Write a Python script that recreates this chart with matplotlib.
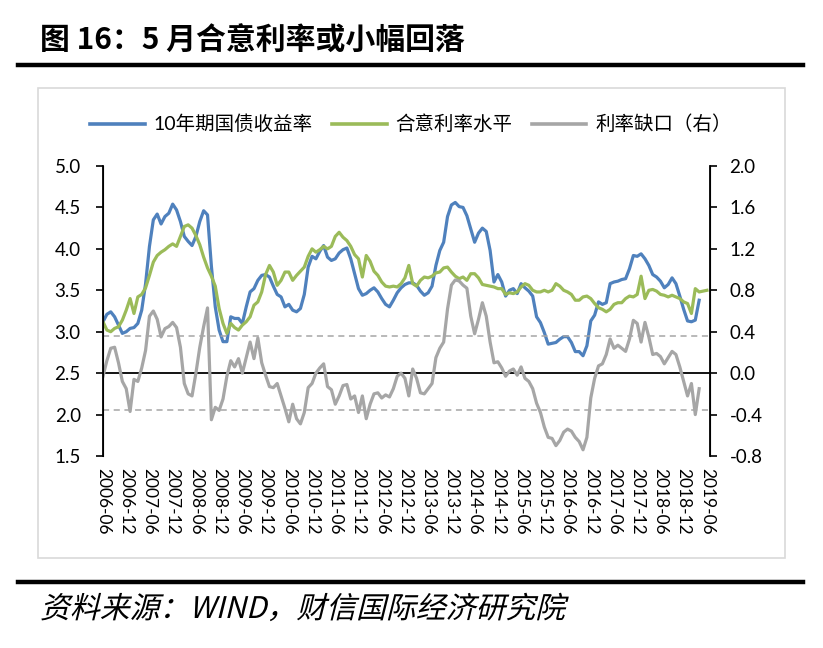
import matplotlib
matplotlib.use("Agg")
import matplotlib.pyplot as plt
from matplotlib.lines import Line2D
from matplotlib.patches import Rectangle, PathPatch
from matplotlib.textpath import TextPath
from matplotlib.font_manager import FontProperties
from matplotlib.transforms import Affine2D
import numpy as np

plt.rcParams['font.family'] = ['Lato', 'Noto Sans CJK SC', 'DejaVu Sans']

# 月度数据，2006-06 起
start_year, start_month = 2006, 6

# 10年期国债收益率（左轴），2006-06 ~ 2019-04
yield_10y = [
    3.12, 3.21, 3.24, 3.18, 3.08, 2.98, 3.00, 3.04, 3.05, 3.10,
    3.26, 3.58, 4.03, 4.35, 4.42, 4.30, 4.39, 4.43, 4.54, 4.47,
    4.33, 4.15, 4.09, 4.04, 4.15, 4.33, 4.46, 4.41, 3.79, 3.30,
    3.02, 2.88, 2.88, 3.18, 3.16, 3.16, 3.10, 3.30, 3.48, 3.52,
    3.62, 3.68, 3.69, 3.66, 3.55, 3.45, 3.42, 3.30, 3.33, 3.26,
    3.24, 3.28, 3.45, 3.78, 3.91, 3.88, 3.97, 4.04, 3.90, 3.86,
    3.88, 3.95, 3.99, 4.01, 3.88, 3.70, 3.52, 3.44, 3.46, 3.50,
    3.53, 3.48, 3.40, 3.33, 3.30, 3.38, 3.47, 3.53, 3.57, 3.59,
    3.59, 3.56, 3.49, 3.44, 3.47, 3.55, 3.80, 3.98, 4.08, 4.39,
    4.53, 4.56, 4.51, 4.50, 4.40, 4.24, 4.08, 4.19, 4.25, 4.21,
    3.98, 3.60, 3.69, 3.60, 3.43, 3.50, 3.52, 3.46, 3.58, 3.53,
    3.49, 3.43, 3.18, 3.11, 2.99, 2.85, 2.86, 2.87, 2.91, 2.94,
    2.94, 2.87, 2.76, 2.76, 2.71, 2.83, 3.13, 3.20, 3.36, 3.33,
    3.35, 3.58, 3.60, 3.61, 3.63, 3.64, 3.76, 3.92, 3.91, 3.94,
    3.88, 3.80, 3.69, 3.66, 3.61, 3.53, 3.57, 3.65, 3.58, 3.43,
    3.27, 3.13, 3.12, 3.14, 3.38,
]

# 合意利率水平（左轴），2006-06 ~ 2019-06
target_rate = [
    3.12, 3.02, 3.00, 3.04, 3.06, 3.14, 3.26, 3.40, 3.22, 3.42,
    3.45, 3.53, 3.68, 3.84, 3.92, 3.96, 3.99, 4.03, 4.06, 4.03,
    4.15, 4.27, 4.29, 4.25, 4.16, 4.05, 3.90, 3.77, 3.67, 3.55,
    3.28, 3.10, 2.98, 3.10, 3.05, 3.02, 3.08, 3.12, 3.18, 3.32,
    3.36, 3.48, 3.69, 3.80, 3.72, 3.56, 3.62, 3.72, 3.72, 3.62,
    3.68, 3.73, 3.78, 3.91, 4.00, 3.96, 3.99, 4.03, 4.00, 4.03,
    4.15, 4.20, 4.14, 4.10, 4.03, 3.93, 3.88, 3.66, 3.92, 3.85,
    3.73, 3.68, 3.60, 3.55, 3.54, 3.55, 3.54, 3.58, 3.65, 3.80,
    3.58, 3.55, 3.62, 3.66, 3.65, 3.67, 3.71, 3.72, 3.77, 3.78,
    3.72, 3.67, 3.64, 3.66, 3.62, 3.70, 3.70, 3.65, 3.57, 3.56,
    3.55, 3.54, 3.52, 3.52, 3.45, 3.47, 3.46, 3.48, 3.54, 3.58,
    3.56, 3.50, 3.48, 3.48, 3.50, 3.48, 3.50, 3.58, 3.55, 3.50,
    3.48, 3.45, 3.38, 3.38, 3.42, 3.43, 3.40, 3.34, 3.29, 3.27,
    3.24, 3.27, 3.33, 3.35, 3.35, 3.40, 3.43, 3.42, 3.45, 3.67,
    3.40, 3.50, 3.51, 3.49, 3.45, 3.44, 3.42, 3.44, 3.42, 3.40,
    3.36, 3.34, 3.22, 3.52, 3.48, 3.49, 3.50,
]

# 利率缺口（右轴），2006-06 ~ 2019-04
rate_gap = [
    -0.03, 0.12, 0.24, 0.25, 0.10, -0.08, -0.15, -0.37, -0.06, -0.08,
    0.05, 0.22, 0.55, 0.60, 0.52, 0.35, 0.43, 0.45, 0.49, 0.44,
    0.25, -0.10, -0.20, -0.22, 0.00, 0.25, 0.45, 0.63, -0.45, -0.33,
    -0.36, -0.25, -0.03, 0.12, 0.06, 0.14, 0.00, 0.15, 0.30, 0.14,
    0.34, 0.10, -0.02, -0.13, -0.14, -0.10, -0.22, -0.34, -0.47, -0.30,
    -0.44, -0.49, -0.38, -0.14, -0.10, 0.00, 0.05, 0.09, -0.13, -0.16,
    -0.30, -0.22, -0.12, -0.11, -0.25, -0.22, -0.38, -0.22, -0.44, -0.30,
    -0.20, -0.19, -0.24, -0.21, -0.23, -0.15, -0.03, 0.00, -0.05, -0.22,
    0.04, -0.05, -0.19, -0.20, -0.15, -0.10, 0.15, 0.24, 0.30, 0.62,
    0.85, 0.90, 0.89, 0.85, 0.82, 0.55, 0.38, 0.52, 0.68, 0.55,
    0.30, 0.10, 0.11, 0.05, -0.03, 0.02, 0.04, -0.02, 0.06, -0.05,
    -0.08, -0.15, -0.29, -0.38, -0.52, -0.62, -0.63, -0.70, -0.65, -0.57,
    -0.54, -0.56, -0.62, -0.66, -0.74, -0.62, -0.24, -0.05, 0.07, 0.09,
    0.18, 0.33, 0.24, 0.27, 0.24, 0.21, 0.33, 0.51, 0.48, 0.30,
    0.49, 0.35, 0.18, 0.19, 0.16, 0.09, 0.15, 0.21, 0.18, 0.06,
    -0.08, -0.22, -0.10, -0.40, -0.15,
]

gap_band = 0.36

labels = ['10年期国债收益率', '合意利率水平', '利率缺口（右）']
c_blue, c_green, c_gray = '#4F81BD', '#9BBB59', '#A6A6A6'

# 横轴刻度：每半年
tick_pos = list(range(0, 157, 6))
tick_lab = []
for p in tick_pos:
    y = start_year + (start_month - 1 + p) // 12
    m = (start_month - 1 + p) % 12 + 1
    tick_lab.append(f'{y}-{m:02d}')

W, H = 823, 648
fig = plt.figure(figsize=(W / 100, H / 100), dpi=100)

ax = fig.add_axes([103 / W, 1 - 456 / H, (710 - 103) / W, (456 - 166) / H])
ax2 = ax.twinx()

ax.plot(np.arange(len(yield_10y)), yield_10y, color=c_blue, lw=2.3)
ax.plot(np.arange(len(target_rate)), target_rate, color=c_green, lw=2.3)
ax2.plot(np.arange(len(rate_gap)), rate_gap, color=c_gray, lw=2.3)
ax2.axhline(0, color='black', lw=1.3, zorder=0)
ax2.axhline(gap_band, color=c_gray, lw=1.1, ls=(0, (4, 3)), zorder=0)
ax2.axhline(-gap_band, color=c_gray, lw=1.1, ls=(0, (4, 3)), zorder=0)

ax.set_xlim(0, 156.8)
ax.set_ylim(1.5, 5.0)
ax2.set_ylim(-0.8, 2.0)
ax.set_yticks(np.arange(1.5, 5.01, 0.5))
ax.set_yticklabels([f'{v:.1f}' for v in np.arange(1.5, 5.01, 0.5)])
ax2.set_yticks(np.arange(-0.8, 2.01, 0.4))
ax2.set_yticklabels([f'{v:.1f}' for v in np.arange(-0.8, 2.01, 0.4)])
ax.set_xticks(tick_pos)
ax.set_xticklabels(tick_lab, rotation=270, fontsize=12.5)

for a in (ax, ax2):
    a.spines['top'].set_visible(False)
    a.spines['bottom'].set_visible(False)
    a.tick_params(axis='y', labelsize=13.5, length=5, width=1.2, direction='out')
ax.tick_params(axis='y', pad=11)
ax2.tick_params(axis='y', pad=9)
ax.spines['left'].set_linewidth(1.3)
ax2.spines['right'].set_linewidth(1.3)
ax.tick_params(axis='x', length=0, pad=9)

# 图例
handles = [Line2D([], [], color=c, lw=2.6) for c in (c_blue, c_green, c_gray)]
fig.legend(handles, labels, loc='center', bbox_to_anchor=(411 / W, 1 - 124 / H),
           ncol=3, frameon=False, fontsize=14, handlelength=2.8,
           handletextpad=0.45, columnspacing=1.0)

# 外框与分隔线
fig.add_artist(Rectangle((38 / W, 1 - 558 / H), (785 - 38) / W, (558 - 88) / H,
                         transform=fig.transFigure, fill=False, ec='#D9D9D9', lw=1.2))
fig.add_artist(Line2D([18 / W, 803 / W], [1 - 65 / H] * 2, transform=fig.transFigure,
                      color='black', lw=3.2))
fig.add_artist(Line2D([18 / W, 803 / W], [1 - 582 / H] * 2, transform=fig.transFigure,
                      color='black', lw=3.2))

fig.text(40 / W, 1 - 41 / H, '图 16：5 月合意利率或小幅回落', fontsize=21.5,
         fontweight='bold', va='center', ha='left', family=['Noto Sans CJK SC'])

# 来源（斜体）
src = '资料来源：WIND，财信国际经济研究院'
tp = TextPath((0, 0), src, size=21.5, prop=FontProperties(family='Noto Sans CJK SC', weight='light'))
tr = Affine2D().skew_deg(14, 0).scale(1 / 72).translate(40 / 100, (H - 618) / 100) + fig.dpi_scale_trans
fig.add_artist(PathPatch(tp, transform=tr, fc='black', ec='none'))

fig.savefig('out.png', dpi=100)
